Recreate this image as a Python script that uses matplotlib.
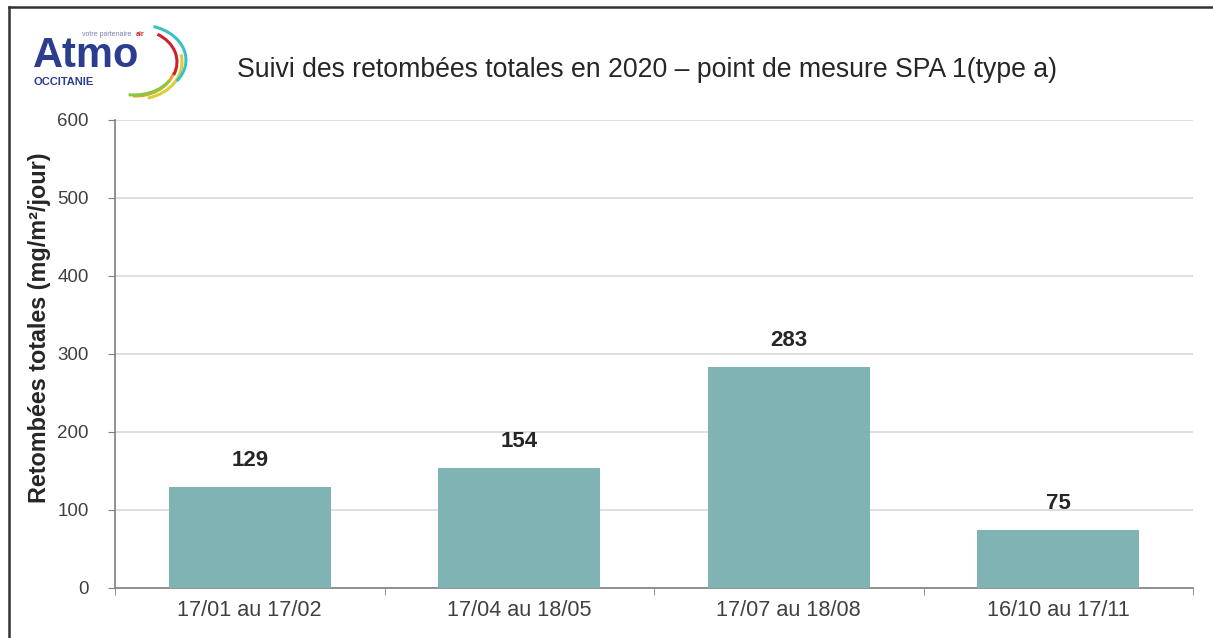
import matplotlib.pyplot as plt
from matplotlib.patches import Arc
from matplotlib.lines import Line2D

# Données
periodes = ['17/01 au 17/02', '17/04 au 18/05', '17/07 au 18/08', '16/10 au 17/11']
retombees = [129, 154, 283, 75]
yticks = [0, 100, 200, 300, 400, 500, 600]
titre = 'Suivi des retombées totales en 2020 – point de mesure SPA 1(type a)'
ylabel = 'Retombées totales (mg/m²/jour)'

W, H = 1213, 638
fig = plt.figure(figsize=(W / 100, H / 100), dpi=100)
fig.patch.set_facecolor('white')

ax = fig.add_axes([115 / W, 1 - 588 / H, (1193 - 115) / W, (588 - 120) / H])
x = range(len(periodes))
ax.bar(x, retombees, width=0.6, color='#80b3b3', zorder=3)

ax.set_xlim(-0.5, len(periodes) - 0.5)
ax.set_ylim(0, 600)
ax.set_yticks(yticks)
ax.set_yticklabels([str(t) for t in yticks], fontfamily='Liberation Sans',
                   fontsize=13.5, color='#404040')
ax.set_xticks(list(x))
ax.set_xticklabels(periodes, fontfamily='Liberation Sans', fontsize=15.6, color='#404040')
ax.set_xticks([i - 0.5 for i in range(len(periodes) + 1)], minor=True)
ax.tick_params(axis='x', which='major', length=0, pad=9)
ax.tick_params(axis='x', which='minor', length=5, color='#7f7f7f', direction='out')
ax.tick_params(axis='y', length=5, color='#7f7f7f', direction='out', pad=14)

ax.grid(axis='y', color='#d9d9d9', linewidth=1.2, zorder=0)
for s in ['top', 'right']:
    ax.spines[s].set_visible(False)
for s in ['left', 'bottom']:
    ax.spines[s].set_color('#7f7f7f')
    ax.spines[s].set_linewidth(1.2)

for i, v in enumerate(retombees):
    ax.annotate(str(v), (i, v), xytext=(0, 19), textcoords='offset points',
                ha='center', va='center', fontsize=16, fontweight='bold',
                fontfamily='Liberation Sans', color='#262626')

fig.text(647 / W, 1 - 70 / H, titre, ha='center', va='center', fontsize=19.2,
         fontfamily='Liberation Sans', color='#262626')
fig.text(40 / W, 1 - 328 / H, ylabel, ha='center', va='center', rotation=90,
         fontsize=16.8, fontweight='bold', fontfamily='Liberation Sans', color='#262626')

# Logo Atmo Occitanie (coordonnées en pixels)
lg = fig.add_axes([20 / W, 1 - 105 / H, 180 / W, 85 / H])
lg.set_xlim(20, 200)
lg.set_ylim(105, 20)
lg.axis('off')
lg.text(33, 67, 'Atmo', fontsize=30, fontweight='bold', color='#2b3d8f',
        fontfamily='Liberation Sans', va='baseline', ha='left')
lg.text(33, 82, 'OCCITANIE', fontsize=8, fontweight='bold', color='#2b3d8f',
        fontfamily='Liberation Sans', va='center', ha='left')
lg.text(82, 34, 'votre partenaire', fontsize=5, color='#7a7fb0',
        fontfamily='Liberation Sans', va='center', ha='left')
lg.text(136, 34, 'air', fontsize=5, fontweight='bold', color='#d0202e',
        fontfamily='Liberation Sans', va='center', ha='left')
arcs = [
    ((138, 62), 88, 74, -75, 10, '#d8cf3a'),
    ((136, 62), 80, 68, -95, -15, '#f0a030'),
    ((140, 60), 92, 70, -30, 68, '#3cc0c8'),
    ((138, 62), 78, 64, -20, 55, '#d0202e'),
    ((134, 64), 84, 62, -100, -25, '#8cc63f'),
]
for c, w, h, t1, t2, col in arcs:
    lg.add_patch(Arc(c, w, h, theta1=-t2, theta2=-t1, color=col, linewidth=2.2))

# Cadre
fig.add_artist(Line2D([9 / W, 1], [1 - 7 / H, 1 - 7 / H], color='#333333', linewidth=1.8))
fig.add_artist(Line2D([9 / W, 9 / W], [0, 1 - 7 / H], color='#333333', linewidth=1.8))

fig.savefig('out.png', dpi=100)
